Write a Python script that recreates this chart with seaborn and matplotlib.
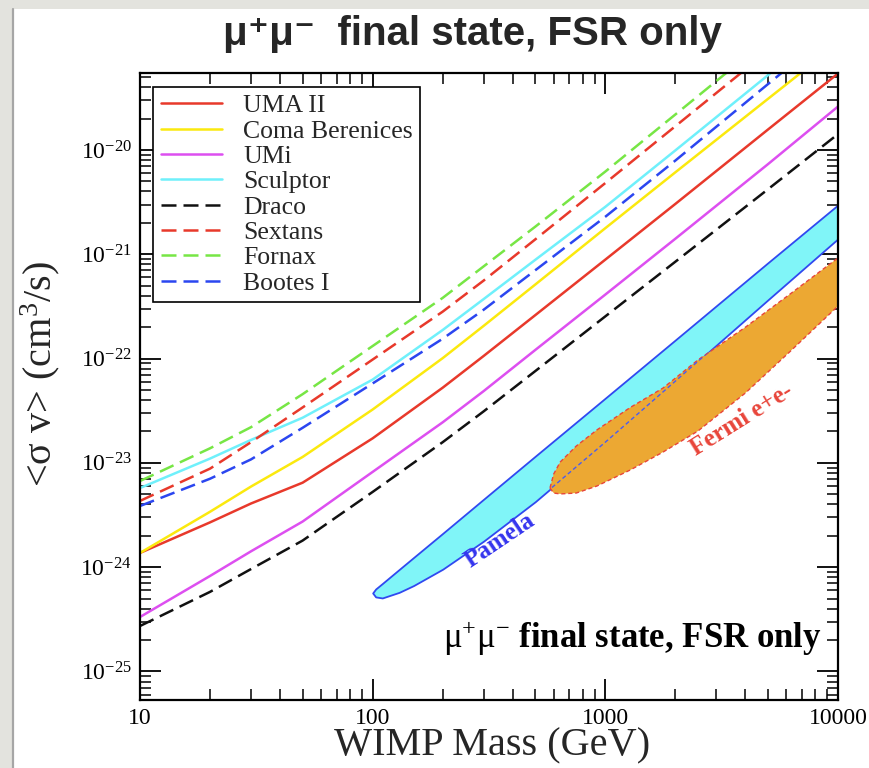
import numpy as np
import pandas as pd
import matplotlib
matplotlib.use("Agg")
import matplotlib.pyplot as plt
from matplotlib.patches import Rectangle
from matplotlib.lines import Line2D
from matplotlib.ticker import NullFormatter, LogLocator
import seaborn as sns

# WIMP masses (GeV) at which the dwarf-galaxy limits are tabulated
mass = [10, 20, 30, 50, 100, 200, 300, 500, 1000, 2000, 5000, 10000]

# Upper limits on <sigma v> (cm^3/s), mu+ mu- final state, FSR only
uma_ii = [1.37e-24, 2.69e-24, 4.08e-24, 6.46e-24, 1.72e-23, 5.26e-23,
          1.06e-22, 2.61e-22, 8.89e-22, 3.04e-21, 1.57e-20, 5.41e-20]
coma_berenices = [1.37e-24, 3.40e-24, 5.93e-24, 1.14e-23, 3.25e-23, 1.01e-22,
                  2.06e-22, 5.13e-22, 1.78e-21, 6.11e-21, 3.09e-20, 1.05e-19]
umi = [3.33e-25, 8.24e-25, 1.42e-24, 2.74e-24, 8.20e-24, 2.45e-23,
       4.88e-23, 1.21e-22, 4.11e-22, 1.41e-21, 7.31e-21, 2.61e-20]
sculptor = [5.74e-24, 1.10e-23, 1.66e-23, 2.71e-23, 6.29e-23, 1.88e-22,
            3.72e-22, 8.85e-22, 2.85e-21, 9.91e-21, 5.21e-20, 1.83e-19]
draco = [2.73e-25, 5.80e-25, 9.60e-25, 1.80e-24, 5.27e-24, 1.58e-23,
         3.12e-23, 7.59e-23, 2.54e-22, 8.49e-22, 4.20e-21, 1.42e-20]
sextans = [4.32e-24, 8.81e-24, 1.58e-23, 3.40e-23, 9.79e-23, 2.82e-22,
           5.60e-22, 1.39e-21, 4.82e-21, 1.69e-20, 8.87e-20, 3.10e-19]
fornax = [6.70e-24, 1.38e-23, 2.20e-23, 4.56e-23, 1.32e-22, 3.82e-22,
          7.66e-22, 1.84e-21, 6.21e-21, 2.19e-20, 1.16e-19, 4.10e-19]
bootes_i = [3.86e-24, 7.05e-24, 1.08e-23, 2.17e-23, 5.78e-23, 1.55e-22,
            2.94e-22, 7.03e-22, 2.29e-21, 7.92e-21, 4.28e-20, 1.52e-19]

dwarfs = ["UMA II", "Coma Berenices", "UMi", "Sculptor",
          "Draco", "Sextans", "Fornax", "Bootes I"]
limits = [uma_ii, coma_berenices, umi, sculptor, draco, sextans, fornax, bootes_i]

# PAMELA positron-excess region
pamela_mass = [100, 103, 110, 130, 150, 200, 300, 500, 1000, 2000, 5000, 10000]
pamela_upper = [5.66e-25, 6.18e-25, 6.97e-25, 9.51e-25, 1.24e-24, 2.11e-24,
                4.49e-24, 1.16e-23, 4.18e-23, 1.51e-22, 8.30e-22, 2.98e-21]
pamela_lower = [5.66e-25, 5.19e-25, 5.07e-25, 5.74e-25, 6.67e-25, 9.57e-25,
                1.78e-24, 4.25e-24, 1.58e-23, 6.08e-23, 3.66e-22, 1.41e-21]

# Fermi e+e- region
fermi_mass = [578, 600, 640, 750, 920, 1280, 1770, 2500, 4000, 6200, 10000]
fermi_upper = [5.74e-24, 7.83e-24, 1.02e-23, 1.45e-23, 2.07e-23, 3.40e-23,
               5.22e-23, 9.70e-23, 2.00e-22, 4.13e-22, 9.23e-22]
fermi_lower = [5.74e-24, 5.14e-24, 5.04e-24, 5.14e-24, 6.00e-24, 8.55e-24,
               1.27e-23, 2.02e-23, 4.68e-23, 1.16e-22, 3.19e-22]

x_ticks = [10, 100, 1000, 10000]
x_tick_labels = ["10", "100", "1000", "10000"]

colors = {
    "UMA II": "#e8392b", "Coma Berenices": "#fbe90e", "UMi": "#dd4ff0",
    "Sculptor": "#6ff0fb", "Draco": "#111111", "Sextans": "#e8392b",
    "Fornax": "#77e645", "Bootes I": "#2b46f0",
}
dash_pattern = (6.0, 2.8)
dashes = {d: ("" if d in ("UMA II", "Coma Berenices", "UMi", "Sculptor") else dash_pattern)
          for d in dwarfs}

sns.set_theme(style="ticks")
plt.rcParams["font.family"] = ["Liberation Serif", "DejaVu Serif"]
plt.rcParams["mathtext.fontset"] = "custom"
plt.rcParams["mathtext.rm"] = "Liberation Serif"
plt.rcParams["mathtext.it"] = "Liberation Serif:italic"
plt.rcParams["mathtext.bf"] = "Liberation Serif:bold"

fig = plt.figure(figsize=(8.7, 7.68), dpi=100, facecolor="white")
ax = fig.add_axes([140 / 870, 1 - 700 / 768, 698 / 870, 627 / 768])
ax.set_facecolor("white")

# slide border
fig.patches.append(Rectangle((0, 0), 13 / 870, 1, transform=fig.transFigure,
                             facecolor="#e3e3de", edgecolor="none", zorder=-5))
fig.patches.append(Rectangle((0, 1 - 9 / 768), 1, 9 / 768, transform=fig.transFigure,
                             facecolor="#e3e3de", edgecolor="none", zorder=-5))
fig.add_artist(Line2D([13.5 / 870, 13.5 / 870], [0, 1 - 9 / 768], transform=fig.transFigure,
                      color="#a6a6a6", lw=1.6))

ax.set_xscale("log")
ax.set_yscale("log")

# PAMELA band
ax.fill_between(pamela_mass, pamela_lower, pamela_upper, facecolor="#80f5f8",
                edgecolor="#3049f0", linewidth=1.3, zorder=1)
# Fermi band
fermi_band = ax.fill_between(fermi_mass, fermi_lower, fermi_upper, facecolor="#eca833",
                             edgecolor="#e8453a", linewidth=1.0, linestyle=(0, (3, 2)),
                             zorder=1.2)
# PAMELA lower boundary seen through the Fermi region
inner, = ax.plot(pamela_mass, pamela_lower, color="#4a5cf0", lw=1.0,
                 linestyle=(0, (3, 2)), zorder=1.3)
inner.set_clip_path(fermi_band.get_paths()[0], ax.transData)

df = pd.DataFrame({
    "mass": np.tile(mass, len(dwarfs)),
    "sigma_v": np.concatenate(limits),
    "dwarf": np.repeat(dwarfs, len(mass)),
})
sns.lineplot(data=df, x="mass", y="sigma_v", hue="dwarf", style="dwarf",
             hue_order=dwarfs, style_order=dwarfs, palette=colors, dashes=dashes,
             estimator=None, sort=False, linewidth=1.8, legend=False, ax=ax, zorder=2)

ax.set_xlim(10, 10000)
ax.set_ylim(5.33e-26, 5.47e-20)

ax.set_xticks(x_ticks)
ax.set_xticklabels(x_tick_labels)
ax.xaxis.set_minor_locator(LogLocator(base=10, subs=np.arange(2, 10)))
ax.xaxis.set_minor_formatter(NullFormatter())
ax.yaxis.set_major_locator(LogLocator(base=10, numticks=20))
ax.yaxis.set_minor_locator(LogLocator(base=10, subs=np.arange(2, 10), numticks=20))
ax.yaxis.set_minor_formatter(NullFormatter())

ax.tick_params(which="both", direction="in", top=True, right=True, colors="black",
               labelsize=17)
ax.tick_params(which="major", length=15, width=1.3, pad=6)
ax.tick_params(which="minor", length=8, width=1.1)
for s in ax.spines.values():
    s.set_color("black")
    s.set_linewidth(1.6)

ax.set_xlabel("WIMP Mass (GeV)", fontsize=29)
ax.xaxis.set_label_coords(0.504, -0.044)
ax.set_ylabel(r"<σ v> (cm$^{3}$/s)", fontsize=29)
ax.yaxis.set_label_coords(-0.112, 0.52)

handles = [Line2D([], [], color=colors[d], lw=1.8,
                  linestyle="-" if dashes[d] == "" else (0, dash_pattern))
           for d in dwarfs]
leg = ax.legend(handles, dwarfs, loc="upper left", bbox_to_anchor=(0.0186, 0.978),
                borderaxespad=0, fontsize=18.5, frameon=True, fancybox=False,
                framealpha=1, edgecolor="black", handlelength=2.4,
                handletextpad=0.8, labelspacing=0.09, borderpad=0.3)
leg.get_frame().set_linewidth(1.2)

ax.text(352, 1.82e-24, "Pamela", rotation=34, rotation_mode="anchor",
        ha="center", va="center", color="#3535ee", fontsize=18, fontweight="bold")
ax.text(3866, 2.58e-23, "Fermi e+e-", rotation=32, rotation_mode="anchor",
        ha="center", va="center", color="#e8453a", fontsize=18, fontweight="bold")
ax.text(0.977, 0.083, r"$\mathrm{\mu^{+}\mu^{-}}$ final state, FSR only",
        transform=ax.transAxes, ha="right", va="baseline", fontsize=25,
        fontweight="bold", color="black")

fig.text(472 / 870, 1 - 34 / 768, "μ⁺μ⁻  final state, FSR only", ha="center", va="center",
         fontsize=29, fontweight="bold",
         family=["Liberation Sans Narrow", "Liberation Sans", "DejaVu Sans"])

fig.savefig("out.png", dpi=100, facecolor=fig.get_facecolor())
